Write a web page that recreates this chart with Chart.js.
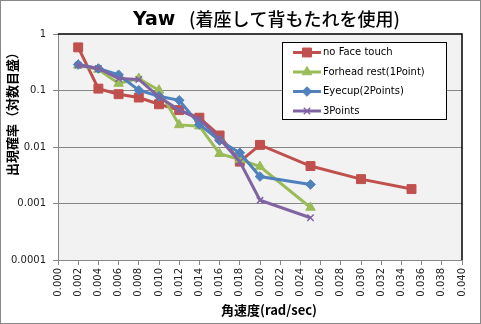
<!DOCTYPE html>
<html>
<head>
<meta charset="utf-8">
<script src="https://cdn.jsdelivr.net/npm/chart.js@4"></script>
<style>
  html, body { margin: 0; padding: 0; background: #fff; }
  #wrap { width: 481px; height: 324px; }
</style>
</head>
<body>
<div id="wrap"><canvas id="yaw" width="481" height="324"></canvas></div>
<script>
// angular velocity (rad/sec)
const angVel = [0.002, 0.004, 0.006, 0.008, 0.010, 0.012, 0.014, 0.016, 0.018, 0.020, 0.025, 0.030, 0.035];

const noFaceTouch = [0.58, 0.108, 0.086, 0.075, 0.057, 0.045, 0.033, 0.016, 0.0055, 0.0109, 0.0046, 0.0027, 0.0018];
const forheadRest = [0.28, 0.235, 0.133, 0.163, 0.101, 0.0246, 0.0234, 0.0076, 0.006, 0.0045, 0.00085];
const eyecup      = [0.288, 0.245, 0.19, 0.101, 0.079, 0.067, 0.025, 0.013, 0.0079, 0.003, 0.00217];
const threePoints = [0.28, 0.245, 0.163, 0.157, 0.077, 0.045, 0.031, 0.014, 0.0055, 0.00114, 0.00056];

const seriesNames = ['no Face touch', 'Forhead rest(1Point)', 'Eyecup(2Points)', '3Points'];
const yTicks = [0.0001, 0.001, 0.01, 0.1, 1];

const pts = vals => vals.map((v, i) => ({ x: angVel[i], y: v }));

function series(label, vals, color, style, r, order) {
  return {
    label: label,
    data: pts(vals),
    borderColor: color,
    backgroundColor: color,
    borderWidth: 3,
    pointStyle: style,
    pointRadius: r,
    pointBorderWidth: style === 'crossRot' ? 1.5 : 1,
    pointBorderColor: color,
    pointBackgroundColor: color,
    tension: 0,
    order: order
  };
}

const frame = {
  id: 'frame',
  beforeDraw(chart) {
    const { ctx, chartArea: a } = chart;
    ctx.save();
    ctx.fillStyle = '#fff';
    ctx.fillRect(0, 0, chart.width, chart.height);
    ctx.strokeStyle = '#888';
    ctx.lineWidth = 1;
    ctx.strokeRect(0.5, 0.5, chart.width - 1, chart.height - 1);
    ctx.fillStyle = '#f2f2f2';
    ctx.fillRect(a.left, a.top, a.right - a.left, a.bottom - a.top);
    ctx.restore();
  },
  beforeDatasetsDraw(chart) {
    const { ctx, chartArea: a } = chart;
    ctx.save();
    ctx.strokeStyle = '#000';
    ctx.lineWidth = 1.5;
    ctx.beginPath();
    ctx.moveTo(a.left, a.top);
    ctx.lineTo(a.right, a.top);
    ctx.lineTo(a.right, a.bottom);
    ctx.stroke();
    ctx.restore();
  },
  afterDraw(chart) {
    const ctx = chart.ctx;
    ctx.save();
    // title
    ctx.fillStyle = '#000';
    ctx.textBaseline = 'alphabetic';
    ctx.textAlign = 'left';
    ctx.font = 'bold 19px "DejaVu Sans"';
    ctx.fillText('Yaw', 133, 25);
    ctx.font = '500 18px "Noto Sans CJK JP"';
    ctx.fillText('(着座して背もたれを使用)', 189, 26);

    // axis titles
    ctx.font = 'bold 13px "Noto Sans CJK JP"';
    ctx.textAlign = 'center';
    ctx.textBaseline = 'middle';
    ctx.fillText('角速度(rad/sec)', 269, 310);
    ctx.save();
    ctx.translate(12, 111);
    ctx.rotate(-Math.PI / 2);
    ctx.fillText('出現確率（対数目盛）', 0, 0);
    ctx.restore();

    // legend box
    const bx = 282.5, by = 42.5, bw = 164, bh = 77;
    ctx.fillStyle = '#fff';
    ctx.fillRect(bx, by, bw, bh);
    ctx.strokeStyle = '#000';
    ctx.lineWidth = 1;
    ctx.strokeRect(bx, by, bw, bh);
    const rows = [52.5, 72, 91.5, 111];
    chart.data.datasets.forEach((ds, i) => {
      const y = rows[i];
      ctx.strokeStyle = ds.borderColor;
      ctx.lineWidth = 3;
      ctx.beginPath();
      ctx.moveTo(293, y);
      ctx.lineTo(321, y);
      ctx.stroke();
      ctx.fillStyle = ds.pointBackgroundColor;
      ctx.strokeStyle = ds.pointBorderColor;
      ctx.lineWidth = ds.pointBorderWidth;
      Chart.helpers.drawPoint(ctx, { pointStyle: ds.pointStyle, radius: ds.pointRadius, borderWidth: ds.pointBorderWidth, rotation: 0 }, 307, y);
      ctx.fillStyle = '#000';
      ctx.font = '10px "DejaVu Sans"';
      ctx.textAlign = 'left';
      ctx.textBaseline = 'middle';
      ctx.fillText(ds.label, 323, y);
    });
    ctx.restore();
  }
};

new Chart(document.getElementById('yaw'), {
  type: 'line',
  data: {
    datasets: [
      series(seriesNames[0], noFaceTouch, '#c0504d', 'rect', 6.3, 4),
      series(seriesNames[1], forheadRest, '#9bbb59', 'triangle', 5.5, 3),
      series(seriesNames[2], eyecup, '#4f81bd', 'rectRot', 4.8, 2),
      series(seriesNames[3], threePoints, '#8064a2', 'crossRot', 4.5, 1)
    ]
  },
  options: {
    responsive: false,
    animation: false,
    layout: { padding: { top: 34, right: 19, left: 0, bottom: 0 } },
    plugins: { legend: { display: false }, tooltip: { enabled: false } },
    scales: {
      x: {
        type: 'linear',
        min: 0,
        max: 0.04,
        afterFit(s) { s.height = 64; },
        ticks: {
          stepSize: 0.002,
          autoSkip: false,
          minRotation: 90,
          maxRotation: 90,
          padding: 3,
          color: '#222',
          font: { family: 'DejaVu Sans', size: 10 },
          callback: v => v.toFixed(3)
        },
        grid: { drawOnChartArea: false, tickLength: 5, tickColor: '#868686' },
        border: { color: '#868686', width: 1 }
      },
      y: {
        type: 'logarithmic',
        min: 0.0001,
        max: 1,
        afterFit(s) { s.width = 58; },
        afterBuildTicks(s) { s.ticks = yTicks.map(v => ({ value: v })); },
        ticks: {
          padding: 7,
          color: '#222',
          font: { family: 'DejaVu Sans', size: 10 },
          callback: v => String(v)
        },
        grid: {
          tickLength: 5,
          tickColor: '#868686',
          lineWidth: 1,
          color: c => (c.tick && (c.tick.value === 1 || c.tick.value === 0.0001)) ? 'rgba(0,0,0,0)' : '#868686'
        },
        border: { color: '#868686', width: 1 }
      }
    }
  },
  plugins: [frame]
});
</script>
</body>
</html>
